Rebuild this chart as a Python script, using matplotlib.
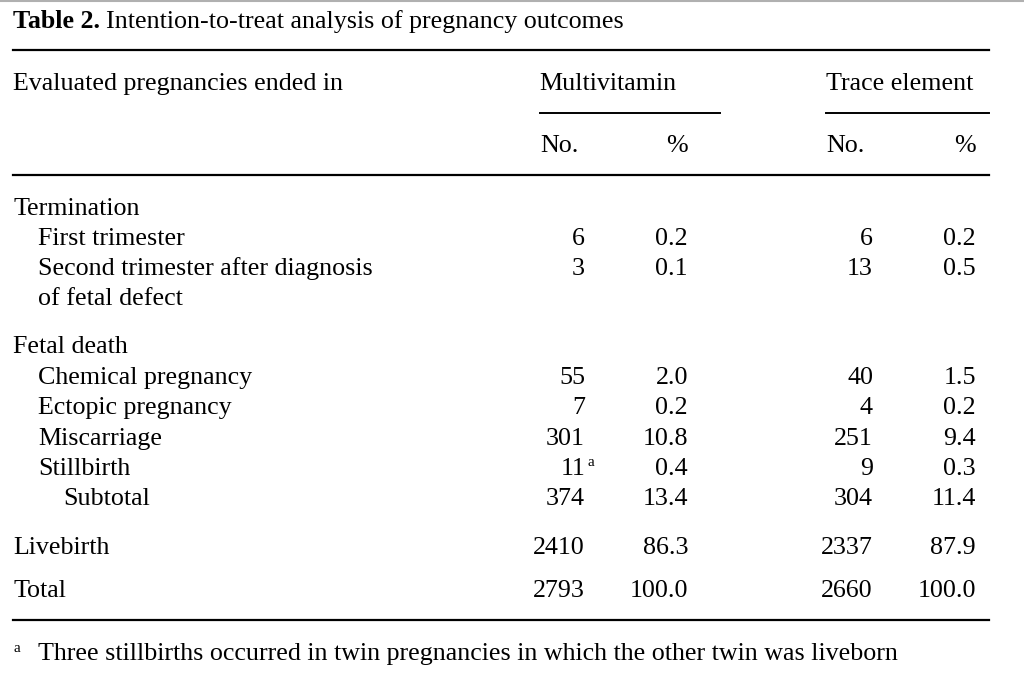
import matplotlib.pyplot as plt

# table content
title_bold = "Table 2."
title_rest = "Intention-to-treat analysis of pregnancy outcomes"
col_header = "Evaluated pregnancies ended in"
groups = ["Multivitamin", "Trace element"]
sub_headers = ["No.", "%"]

row_labels = ["Termination", "First trimester", "Second trimester after diagnosis",
              "of fetal defect", "Fetal death", "Chemical pregnancy", "Ectopic pregnancy",
              "Miscarriage", "Stillbirth", "Subtotal", "Livebirth", "Total"]
row_indent = [0, 1, 1, 1, 0, 1, 1, 1, 1, 2, 0, 0]
multi_no = ["", "6", "3", "", "", "55", "7", "301", "11", "374", "2410", "2793"]
multi_pct = ["", "0.2", "0.1", "", "", "2.0", "0.2", "10.8", "0.4", "13.4", "86.3", "100.0"]
trace_no = ["", "6", "13", "", "", "40", "4", "251", "9", "304", "2337", "2660"]
trace_pct = ["", "0.2", "0.5", "", "", "1.5", "0.2", "9.4", "0.3", "11.4", "87.9", "100.0"]
footnote = "Three stillbirths occurred in twin pregnancies in which the other twin was liveborn"

# layout in pixel units
W, H = 1024, 675
row_base = [215, 245, 275, 305, 353, 384, 414, 445, 475, 505, 554, 597]
col_right = [585, 688, 873, 976]
left = 13
indent_step = 25
fs = 18.7
serif = ["Liberation Serif", "DejaVu Serif"]


def main():
    fig = plt.figure(figsize=(W / 100, H / 100), dpi=100)
    ax = fig.add_axes([0, 0, 1, 1])
    ax.set_xlim(0, W)
    ax.set_ylim(H, 0)
    ax.axis("off")

    # thin grey border at the top of the scan
    ax.plot([0, W], [1, 1], color="#b0b0b0", lw=1.5)

    t = ax.text(left, 28, title_bold, fontsize=fs, fontweight="bold", family=serif, va="baseline")
    fig.canvas.draw()
    bb = t.get_window_extent()
    ax.text(bb.x1 + 6, 28, title_rest, fontsize=fs, family=serif, va="baseline")

    # horizontal rules
    for y in [50, 175, 620]:
        ax.plot([left, 989], [y, y], color="black", lw=1.6)
    ax.plot([540, 720], [113, 113], color="black", lw=1.4)
    ax.plot([826, 989], [113, 113], color="black", lw=1.4)

    ax.text(left, 90, col_header, fontsize=fs, family=serif, va="baseline")
    ax.text(539, 90, groups[0], fontsize=fs, family=serif, va="baseline")
    ax.text(826, 90, groups[1], fontsize=fs, family=serif, va="baseline")
    for x0, x1 in [(540, 688), (826, 976)]:
        ax.text(x0, 152, sub_headers[0], fontsize=fs, family=serif, va="baseline")
        ax.text(x1, 152, sub_headers[1], fontsize=fs, family=serif, va="baseline", ha="right")

    for i, label in enumerate(row_labels):
        y = row_base[i]
        ax.text(left + indent_step * row_indent[i], y, label, fontsize=fs, family=serif, va="baseline")
        for x, col in zip(col_right, [multi_no, multi_pct, trace_no, trace_pct]):
            val = col[i]
            if val:
                ax.text(x, y, val, fontsize=fs, family=serif, va="baseline", ha="right")
        if label == "Stillbirth":
            ax.text(col_right[0] + 2, y - 9, "a", fontsize=11, family=serif, va="baseline")

    ax.text(left, 652, "a", fontsize=11, family=serif, va="baseline")
    ax.text(38, 660, footnote, fontsize=fs, family=serif, va="baseline")

    fig.savefig("out.png", dpi=100, facecolor="white")


if __name__ == "__main__":
    main()
